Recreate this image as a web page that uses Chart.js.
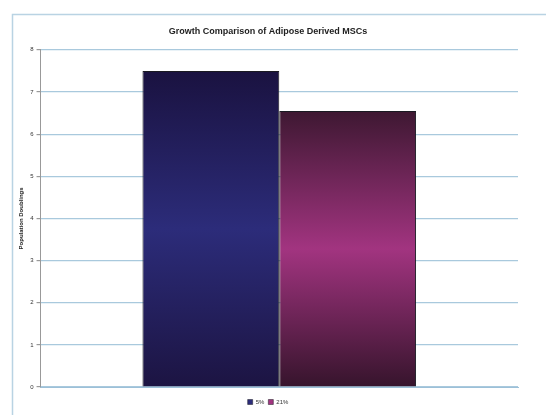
<!DOCTYPE html>
<html>
<head>
<meta charset="utf-8">
<script src="https://cdn.jsdelivr.net/npm/chart.js@4/dist/chart.umd.min.js"></script>
<style>
  html, body { margin: 0; padding: 0; background: #fff; }
  #wrap { width: 546px; height: 415px; }
</style>
</head>
<body>
<div id="wrap"><canvas id="chart" width="546" height="415"></canvas></div>
<script>
const categories = [""];
const seriesNames = ["5%", "21%"];
const values5 = [7.5];
const values21 = [6.55];
const yTicks = [0, 1, 2, 3, 4, 5, 6, 7, 8];

// colour stops for each bar: edge, middle, edge
const barStops = [
  ["#1a1240", "#2c2c7a", "#1c1442"],
  ["#3e1832", "#a23480", "#36142c"],
];

function barGradient(ctx, idx) {
  const chart = ctx.chart;
  const area = chart.chartArea;
  const stops = barStops[idx];
  if (!area || !chart.scales.y) return stops[1];
  const v = chart.data.datasets[idx].data[ctx.dataIndex] || 0;
  const top = chart.scales.y.getPixelForValue(v);
  const bottom = chart.scales.y.getPixelForValue(0);
  const g = chart.ctx.createLinearGradient(0, top, 0, bottom);
  g.addColorStop(0, stops[0]);
  g.addColorStop(0.5, stops[1]);
  g.addColorStop(1, stops[2]);
  return g;
}

// light frame round the chart, like the office chart border
const framePlugin = {
  id: "frame",
  beforeDraw(chart) {
    const c = chart.ctx;
    c.save();
    c.fillStyle = "#ffffff";
    c.fillRect(0, 0, chart.width, chart.height);
    c.strokeStyle = "#b9d3e3";
    c.lineWidth = 1.5;
    c.strokeRect(12.5, 14.5, chart.width + 20, chart.height + 20);
    c.restore();
  },
};

new Chart(document.getElementById("chart"), {
  type: "bar",
  data: {
    labels: categories,
    datasets: [
      {
        label: seriesNames[0],
        data: values5,
        backgroundColor: (ctx) => barGradient(ctx, 0),
        borderColor: "#1a1a22",
        borderWidth: 1,
      },
      {
        label: seriesNames[1],
        data: values21,
        backgroundColor: (ctx) => barGradient(ctx, 1),
        borderColor: "#1a1a22",
        borderWidth: 1,
      },
    ],
  },
  options: {
    responsive: false,
    animation: false,
    devicePixelRatio: 1,
    categoryPercentage: 0.573,
    barPercentage: 1,
    layout: { padding: { left: 18, right: 28, top: 22, bottom: 0 } },
    plugins: {
      title: {
        display: true,
        text: "Growth Comparison of Adipose Derived MSCs",
        color: "#222",
        font: { family: "Liberation Sans", size: 9, weight: "bold" },
        padding: { top: 4, bottom: 13 },
      },
      legend: {
        position: "bottom",
        labels: {
          boxWidth: 5,
          boxHeight: 5,
          color: "#333",
          font: { family: "Liberation Sans", size: 6 },
          padding: 4,
          generateLabels(chart) {
            return chart.data.datasets.map((ds, i) => ({
              text: ds.label,
              fillStyle: barStops[i][1],
              strokeStyle: "#1a1a22",
              lineWidth: 0.5,
              datasetIndex: i,
              fontColor: "#333",
            }));
          },
        },
      },
      tooltip: { enabled: false },
    },
    scales: {
      x: {
        grid: { display: false },
        border: { display: true, color: "#9cc0d8" },
        ticks: { display: false },
      },
      y: {
        min: 0,
        max: 8,
        afterBuildTicks(axis) {
          axis.ticks = yTicks.map((v) => ({ value: v }));
        },
        grid: {
          color: "#a9c9dd",
          lineWidth: 1.2,
          drawTicks: true,
          tickLength: 4,
          tickColor: "#999",
        },
        border: { display: true, color: "#999" },
        ticks: {
          color: "#333",
          font: { family: "Liberation Sans", size: 6 },
          padding: 3,
        },
        title: {
          display: true,
          text: "Population Doublings",
          color: "#222",
          font: { family: "Liberation Sans", size: 6, weight: "bold" },
          padding: { top: 0, bottom: 2 },
        },
      },
    },
  },
  plugins: [framePlugin],
});
</script>
</body>
</html>
